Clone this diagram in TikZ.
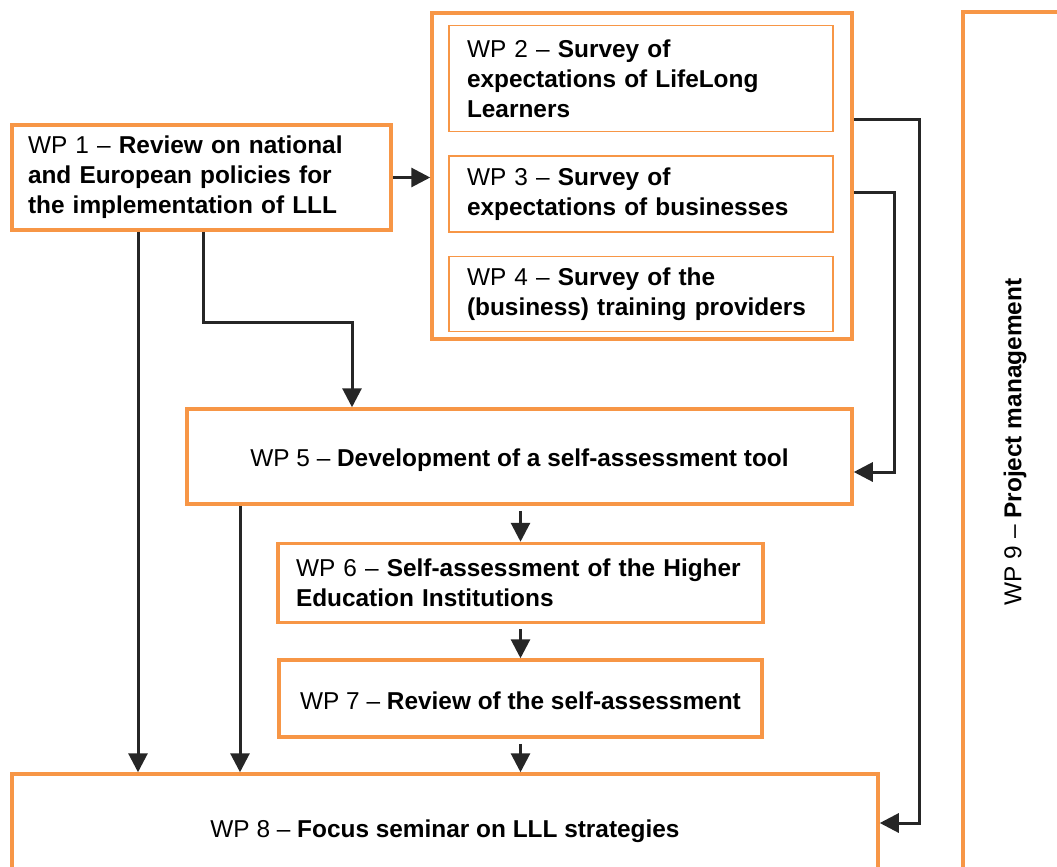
\documentclass[tikz,border=0pt]{standalone}
\usepackage{fontspec}
\setmainfont{Liberation Sans}
\usetikzlibrary{arrows.meta,calc}
\definecolor{wporange}{HTML}{F79646}
\definecolor{arrgray}{HTML}{262626}
\newcommand{\lowertext}[2]{\raisebox{-#1}[\height][\depth]{#2}}
\begin{document}
\begin{tikzpicture}[x=1pt,y=-1pt,
  wpbox/.style={draw=wporange, line width=3.5pt, fill=white, rectangle, inner sep=0pt,
    font=\fontsize{24.4}{30}\selectfont},
  subbox/.style={draw=wporange, line width=1.8pt, fill=white, rectangle, inner sep=0pt,
    font=\fontsize{24.4}{30}\selectfont},
  arr/.style={draw=arrgray, line width=3pt, -{Triangle[length=19pt,width=19pt]}}]
\useasboundingbox (0,0) rectangle (1057,867);
\clip (0,0) rectangle (1057,867);
\fill[white] (0,0) rectangle (1057,867);

% WP1
\node[wpbox, minimum width=379pt, minimum height=105pt, text width=347pt, align=left]
  (wp1) at (201.5,177.5) {WP 1 -- \textbf{Review on national}\\\textbf{and European policies for}\\\textbf{the implementation of LLL}};

% group of WP2-4
\node[wpbox, minimum width=420pt, minimum height=326pt] (grp) at (642,176) {};
\node[subbox, minimum width=384pt, minimum height=106pt, text width=348pt, align=left]
  (wp2) at (641,78.5) {WP 2 -- \textbf{Survey of}\\\textbf{expectations of LifeLong}\\\textbf{Learners}};
\node[subbox, minimum width=384pt, minimum height=76pt, text width=348pt, align=left]
  (wp3) at (641,194) {WP 3 -- \textbf{Survey of}\\\textbf{expectations of businesses}};
\node[subbox, minimum width=384pt, minimum height=75pt, text width=348pt, align=left]
  (wp4) at (641,294) {WP 4 -- \textbf{Survey of the}\\\textbf{(business) training providers}};

% WP5
\node[wpbox, minimum width=665pt, minimum height=95pt]
  (wp5) at (519.5,456.5) {\lowertext{4pt}{WP 5 -- \textbf{Development of a self-assessment tool}}};

% WP6
\node[wpbox, minimum width=485pt, minimum height=79pt, text width=449pt, align=left]
  (wp6) at (520.5,583) {WP 6 -- \textbf{Self-assessment of the Higher}\\\textbf{Education Institutions}};

% WP7
\node[wpbox, minimum width=483pt, minimum height=77pt]
  (wp7) at (520.5,698.5) {\lowertext{2pt}{WP 7 -- \textbf{Review of the self-assessment}}};

% WP8
\node[wpbox, minimum width=866pt, minimum height=110pt]
  (wp8) at (445,829) {\lowertext{2pt}{WP 8 -- \textbf{Focus seminar on LLL strategies}}};

% WP9
\node[wpbox, minimum width=104pt, minimum height=872pt] (wp9) at (1015,448) {};
\node[font=\fontsize{24.4}{30}\selectfont, rotate=90] (wp9t) at ($(wp9.center)+(0,-6)$)
  {WP 9 -- \textbf{Project management}};

% helper coordinates
\coordinate (a1) at ($(wp1.south)+(-63.5,0)$);
\coordinate (a2) at ($(wp1.south)+(1.5,0)$);
\coordinate (a3) at ($(wp5.north)+(-167.5,0)$);
\coordinate (a4) at ($(wp5.south)+(-279.5,0)$);
\coordinate (b1) at ($(grp.east)+(0,16)$);
\coordinate (b2) at ($(grp.east)+(0,-57)$);
\coordinate (t5) at ($(wp5.east)+(0,15.5)$);
\coordinate (t8) at ($(wp8.east)+(0,-6)$);

% connectors
\draw[arr] (wp1.east) -- (wp1.east -| grp.west);
\draw[arr] (a1) -- (a1 |- wp8.north);
\draw[arr] (a2) -- ++(0,90.5) -| (a3);
\draw[arr] (a4) -- (a4 |- wp8.north);
\draw[arr, shorten <=5pt] (wp5.south -| wp6.north) -- (wp6.north);
\draw[arr, shorten <=5pt] (wp6.south) -- (wp7.north);
\draw[arr, shorten <=5pt] (wp7.south) -- (wp7.south |- wp8.north);
\draw[arr] (b1) -- ++(41,0) |- (t5);
\draw[arr] (b2) -- ++(66,0) |- (t8);
\end{tikzpicture}
\end{document}
